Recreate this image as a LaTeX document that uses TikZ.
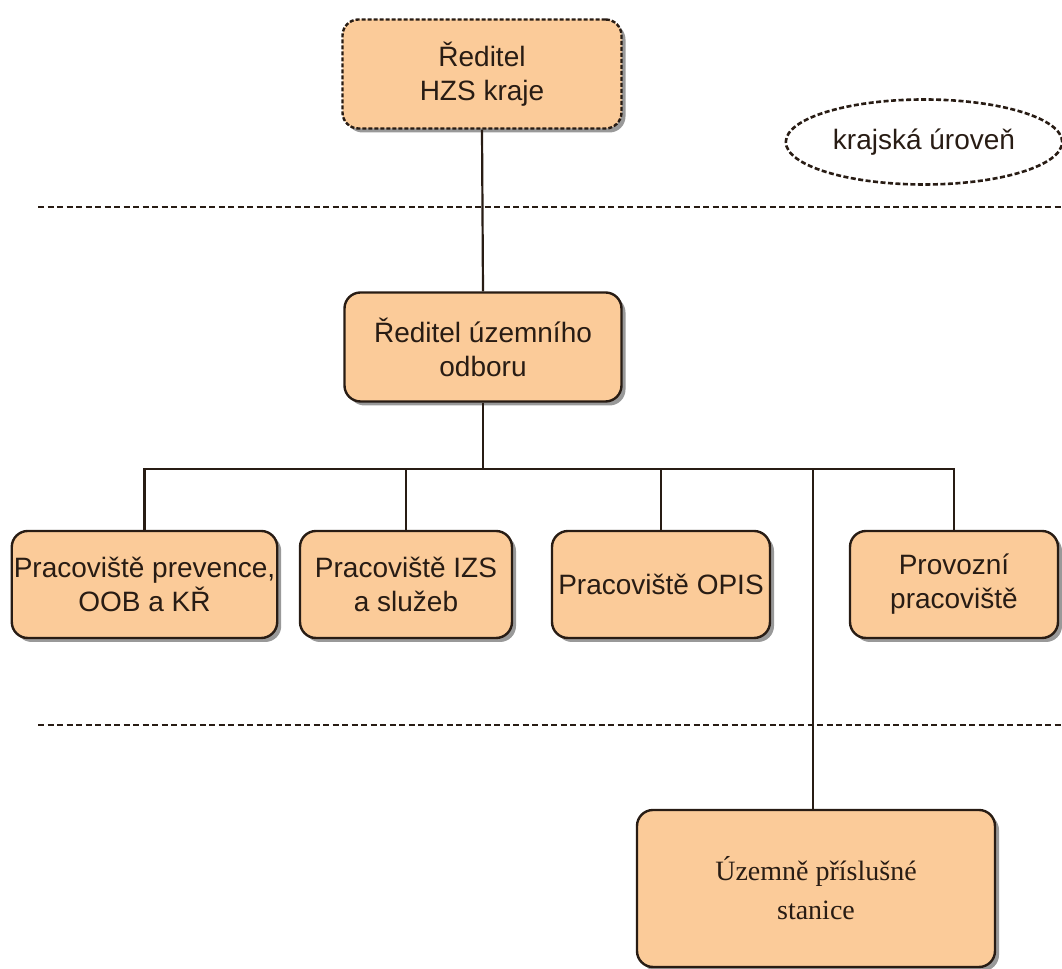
\documentclass[tikz,border=0pt]{standalone}
\usepackage{fontspec}
\setmainfont{Liberation Sans}
\newfontfamily\stanicefont{Liberation Serif}
\usetikzlibrary{shapes.geometric,shadows}
\definecolor{peach}{RGB}{251,203,153}
\definecolor{ink}{RGB}{40,28,20}

\begin{document}
\begin{tikzpicture}[x=0.5pt,y=0.5pt,
  every node/.style={font=\fontsize{14}{17}\selectfont, text=ink, align=center},
  unit/.style={draw=ink, line width=1.2pt, fill=peach, rounded corners=8pt, minimum height=53.5pt, inner sep=1pt,
    drop shadow={shadow xshift=2pt, shadow yshift=-2pt, fill=black, opacity=0.4}},
  conn/.style={draw=ink, line width=1.1pt},
  level/.style={draw=ink, line width=1.4pt, dash pattern=on 3pt off 1.75pt}]
\useasboundingbox (0,0) rectangle (1062,969);

% krajska uroven
\node[unit, dash pattern=on 2pt off 1pt, minimum width=139.5pt, minimum height=54.5pt] (hzs) at (482,895) {Ředitel\\HZS kraje};
\node[ellipse, draw=ink, line width=1.3pt, dash pattern=on 2.5pt off 1.25pt, minimum width=116pt, minimum height=42.5pt] (kraj) at (924,827) {krajská úroveň};
\draw[level] (38,762) -- (1062,762);

% uzemni odbor
\node[unit, minimum width=138.5pt, minimum height=54.5pt] (odbor) at (483,622) {Ředitel územního\\odboru};
\node[unit, minimum width=132.5pt] (prev) at (144.5,384.5) {Pracoviště prevence,\\OOB a KŘ};
\node[unit, minimum width=106pt] (izs) at (406,384.5) {Pracoviště IZS\\a služeb};
\node[unit, minimum width=109pt] (opis) at (661,384.5) {Pracoviště OPIS};
\node[unit, minimum width=104pt] (prov) at (954,384.5) {Provozní\\pracoviště};
\draw[level] (38,244) -- (1062,244);

% stanice
\node[unit, minimum width=179pt, minimum height=78.5pt, font=\stanicefont\fontsize{14}{19.5}\selectfont] (stanice) at (816,80.5) {Územně příslušné\\stanice};

% spojnice
\coordinate (bus) at (0,500);
\draw[conn] (hzs.south) -- (odbor.north);
\draw[conn] (odbor.south) -- (odbor.south |- bus);
\draw[conn] (prev.north) |- (prov.north |- bus) -- (prov.north);
\draw[conn] (izs.north) -- (izs.north |- bus);
\draw[conn] (opis.north) -- (opis.north |- bus);
\draw[conn] ([xshift=-1.5pt]stanice.north) -- ([xshift=-1.5pt]stanice.north |- bus);
\end{tikzpicture}
\end{document}
